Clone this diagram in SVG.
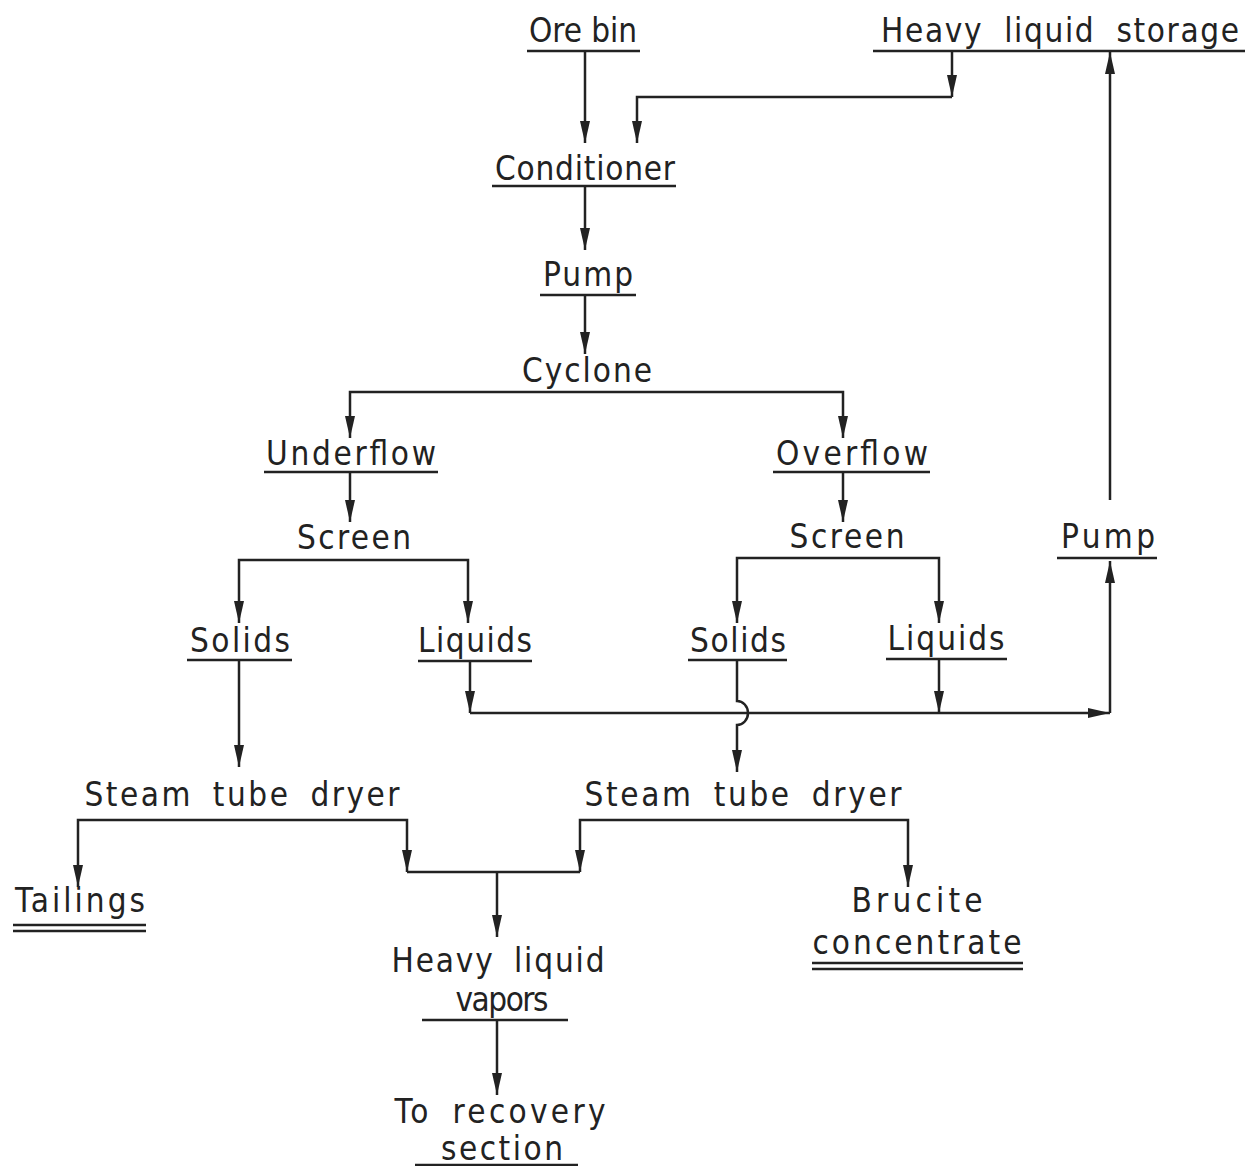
<svg xmlns="http://www.w3.org/2000/svg" width="1247" height="1166" viewBox="0 0 1247 1166">
<style>
text{font-family:"DejaVu Sans Condensed","DejaVu Sans","Liberation Sans",sans-serif;font-size:33px;fill:#222;text-anchor:middle}
.ul{stroke:#222;stroke-width:2.5;fill:none}
.c path{stroke:#222;stroke-width:2.5;fill:none}
</style>
<defs>
<marker id="ah" markerUnits="userSpaceOnUse" markerWidth="24" markerHeight="12" refX="22" refY="5" orient="auto">
<path d="M0,0 L22,5 L0,10 z" fill="#222"/>
</marker>
</defs>
<rect width="1247" height="1166" fill="#fff"/>
<g class="c" id="connectors">
<path d="M585,51 V143" marker-end="url(#ah)"/>
<path d="M952,51 V97" marker-end="url(#ah)"/>
<path d="M952,97 H637 V143" marker-end="url(#ah)"/>
<path d="M585,186 V250" marker-end="url(#ah)"/>
<path d="M585,295 V354" marker-end="url(#ah)"/>
<path d="M590,392 H350 V438" marker-end="url(#ah)"/>
<path d="M590,392 H843 V438" marker-end="url(#ah)"/>
<path d="M350,472 V522" marker-end="url(#ah)"/>
<path d="M843,472 V522" marker-end="url(#ah)"/>
<path d="M354,560 H239 V623" marker-end="url(#ah)"/>
<path d="M354,560 H468 V623" marker-end="url(#ah)"/>
<path d="M840,558 H737 V623" marker-end="url(#ah)"/>
<path d="M840,558 H939 V623" marker-end="url(#ah)"/>
<path d="M239,660 V767" marker-end="url(#ah)"/>
<path d="M470,661 V713" marker-end="url(#ah)"/>
<path d="M470,713 H1110" marker-end="url(#ah)"/>
<path d="M939,659 V713" marker-end="url(#ah)"/>
<path d="M737,660 V701 a11,12 0 0 1 0,24 V772" marker-end="url(#ah)"/>
<path d="M1110,713 V561" marker-end="url(#ah)"/>
<path d="M1110,500 V52" marker-end="url(#ah)"/>
<path d="M242,820 H78 V887" marker-end="url(#ah)"/>
<path d="M242,820 H407 V872" marker-end="url(#ah)"/>
<path d="M743,820 H580 V872" marker-end="url(#ah)"/>
<path d="M743,820 H908 V887" marker-end="url(#ah)"/>
<path d="M407,872 H580"/>
<path d="M497,872 V937" marker-end="url(#ah)"/>
<path d="M497,1020 V1095" marker-end="url(#ah)"/>
</g>
<g id="ore-bin"><text x="583" y="42" textLength="108">Ore bin</text><path class="ul" d="M527,51 H640"/></g>
<g id="heavy-liquid-storage"><text x="1060" y="42" textLength="358" word-spacing="10">Heavy liquid storage</text><path class="ul" d="M873,51 H1245"/></g>
<g id="conditioner"><text x="585" y="180" textLength="180">Conditioner</text><path class="ul" d="M492,186 H676"/></g>
<g id="pump-1"><text x="588" y="286" textLength="90">Pump</text><path class="ul" d="M540,295 H636"/></g>
<g id="cyclone"><text x="587" y="382" textLength="130">Cyclone</text></g>
<g id="underflow"><text x="351" y="465" textLength="170">Underflow</text><path class="ul" d="M264,472 H438"/></g>
<g id="overflow"><text x="852" y="465" textLength="152">Overflow</text><path class="ul" d="M773,472 H930"/></g>
<g id="screen-left"><text x="354" y="549" textLength="114">Screen</text></g>
<g id="screen-right"><text x="847" y="548" textLength="115">Screen</text></g>
<g id="solids-left"><text x="240" y="652" textLength="100">Solids</text><path class="ul" d="M187,660 H292"/></g>
<g id="liquids-left"><text x="475" y="652" textLength="114">Liquids</text><path class="ul" d="M418,661 H532"/></g>
<g id="solids-right"><text x="738" y="652" textLength="96">Solids</text><path class="ul" d="M688,660 H787"/></g>
<g id="liquids-right"><text x="946" y="650" textLength="117">Liquids</text><path class="ul" d="M886,659 H1007"/></g>
<g id="pump-2"><text x="1108" y="548" textLength="94">Pump</text><path class="ul" d="M1057,558 H1157"/></g>
<g id="dryer-left"><text x="242" y="806" textLength="315" word-spacing="8">Steam tube dryer</text></g>
<g id="dryer-right"><text x="743" y="806" textLength="317" word-spacing="8">Steam tube dryer</text></g>
<g id="tailings"><text x="80" y="912" textLength="130">Tailings</text><path class="ul" d="M13,925 H146 M13,931 H146"/></g>
<g id="brucite-concentrate"><text x="917" y="912" textLength="131">Brucite</text><text x="917" y="954" textLength="209">concentrate</text><path class="ul" d="M812,963 H1023 M812,969 H1023"/></g>
<g id="heavy-liquid-vapors"><text x="498" y="972" textLength="213" word-spacing="8">Heavy liquid</text><text x="502" y="1011" textLength="93">vapors</text><path class="ul" d="M422,1020 H568"/></g>
<g id="to-recovery"><text x="500" y="1123" textLength="211" word-spacing="8">To recovery</text><text x="502" y="1160" textLength="122">section</text><path class="ul" d="M415,1165 H578"/></g>
</svg>
